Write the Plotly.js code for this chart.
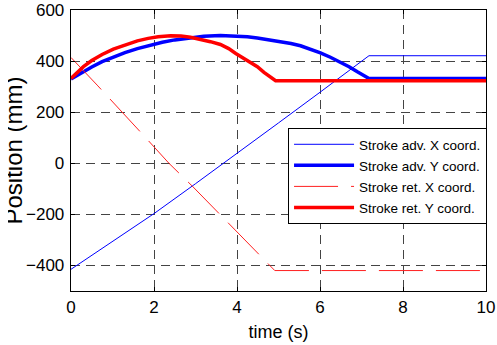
<!DOCTYPE html>
<html>
<head>
<meta charset="utf-8">
<script src="https://cdn.plot.ly/plotly-3.0.1.min.js"></script>
<style>
html,body{margin:0;padding:0;background:#fff;overflow:hidden;}
#wrap{position:relative;width:497px;height:345px;}
#edge{position:absolute;left:0;top:0;width:8px;height:345px;background:#fff;}
</style>
</head>
<body>
<div id="wrap">
<div id="chart" style="width:497px;height:345px;"></div>
<div id="edge"></div>
</div>
<script>
// Stroke advance, X coordinate
const advXTime = [0, 1, 2, 3, 3.68, 4, 5, 6, 7, 7.18, 10];
const advX     = [-415, -306, -197, -80, 0, 38, 158, 278, 398, 421, 421];
// Stroke advance, Y coordinate
const advYTime = [0, 0.15, 0.3, 0.5, 0.75, 1.02, 1.3, 1.6, 1.86, 2.2, 2.5, 2.88, 3.2, 3.6, 3.95, 4.25, 4.49, 4.8, 5.05, 5.3, 5.53, 5.8, 6.01, 6.25, 6.5, 6.7, 6.9, 7.05, 7.18, 10];
const advY     = [330, 345, 358, 377, 398, 417, 433, 449, 461, 474, 483, 492, 497, 500, 499, 495, 490, 483, 477, 469, 460, 446, 432, 415, 395, 378, 358, 344, 332, 332];
// Stroke return, X coordinate
const retXTime = [0, 0.63, 1.71, 2.36, 2.92, 4.0, 4.91, 10];
const retX     = [414, 306, 116, 0, -89, -268, -420, -420];
// Stroke return, Y coordinate
const retYTime = [0, 0.15, 0.3, 0.5, 0.75, 1.02, 1.3, 1.6, 1.86, 2.1, 2.4, 2.65, 2.88, 3.1, 3.36, 3.6, 3.8, 3.97, 4.15, 4.3, 4.49, 4.65, 4.8, 4.93, 10];
const retY     = [332, 356, 378, 402, 426, 447, 464, 479, 489, 495, 499, 498, 493, 486, 476, 465, 449, 430, 413, 398, 378, 356, 338, 323, 323];

const seriesNames = ['Stroke adv. X coord.', 'Stroke adv. Y coord.', 'Stroke ret. X coord.', 'Stroke ret. Y coord.'];
const xTicks = [0, 2, 4, 6, 8, 10];
const yTicks = [-400, -200, 0, 200, 400, 600];

const FONT = 'Liberation Sans, Arial, sans-serif';

const traces = [
  {x: advXTime, y: advX, name: seriesNames[0], legendgroup: 'a', mode: 'lines', line: {color: '#0000ff', width: 1}},
  {x: advYTime, y: advY, name: seriesNames[1], legendgroup: 'b', mode: 'lines', line: {color: '#0000ff', width: 3.5}},
  {x: retXTime, y: retX, name: seriesNames[2], legendgroup: 'c', mode: 'lines', line: {color: '#ff2020', width: 1, dash: '44px,13px'}},
  {x: retYTime, y: retY, name: seriesNames[3], legendgroup: 'd', mode: 'lines', line: {color: '#ff0000', width: 3.5}}
];

const axisCommon = {
  showline: true, linecolor: '#000', linewidth: 1.3, mirror: 'ticks',
  ticks: 'inside', ticklen: 4, tickcolor: '#000',
  showgrid: true, gridcolor: '#444', gridwidth: 1, griddash: '9px,6px',
  zeroline: false,
  tickfont: {family: FONT, size: 17, color: '#000'}
};

const layout = {
  width: 497, height: 345,
  margin: {l: 71, r: 11, t: 10, b: 54},
  paper_bgcolor: '#fff', plot_bgcolor: '#fff',
  showlegend: true,
  xaxis: Object.assign({}, axisCommon, {
    range: [0, 10], tickvals: xTicks, ticklabelstandoff: 0,
    title: {text: 'time (s)', font: {family: FONT, size: 18, color: '#000'}, standoff: 9}
  }),
  yaxis: Object.assign({}, axisCommon, {
    range: [-500, 600], tickvals: yTicks, ticklabelstandoff: 2,
    title: {text: 'Position (mm)\u00A0\u00A0\u00A0\u00A0\u00A0', font: {family: FONT, size: 24, color: '#000'}, standoff: 8}
  }),
  legend: {
    x: 0.523, xanchor: 'left', y: 0.58, yanchor: 'top',
    bgcolor: '#fff', bordercolor: '#000', borderwidth: 1,
    font: {family: FONT, size: 13.5, color: '#000'},
    itemwidth: 60, tracegroupgap: 0.5
  }
};

Plotly.newPlot('chart', traces, layout, {staticPlot: true, displayModeBar: false});
</script>
</body>
</html>
